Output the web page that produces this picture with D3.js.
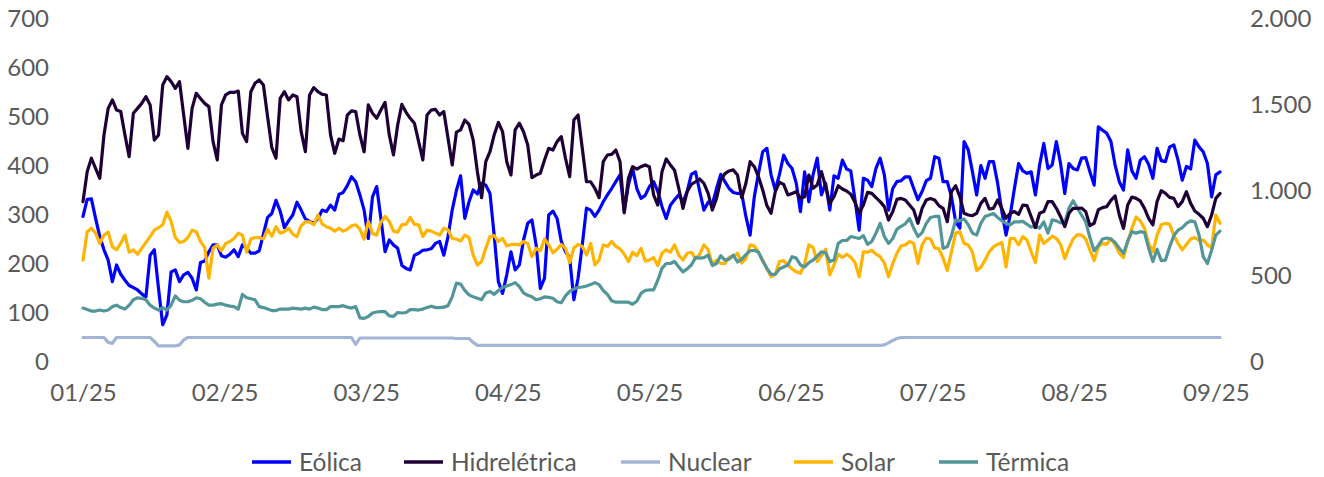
<!DOCTYPE html>
<html><head><meta charset="utf-8">
<script src="https://cdn.jsdelivr.net/npm/d3@7"></script>
<style>
body{margin:0;background:#fff;}
svg text{font-family:Lato,"Open Sans",sans-serif;fill:#595959;}
</style></head>
<body><svg id="c" width="1324" height="477"></svg>
<script>
// ---- data (daily, 01/01/2025 onward) ----
const xTickLabels = ["01/25","02/25","03/25","04/25","05/25","06/25","07/25","08/25","09/25"];
const leftTicks = [0,100,200,300,400,500,600,700];
const rightTicks = [0,500,1000,1500,2000];
const seriesNames = ["Eólica","Hidrelétrica","Nuclear","Solar","Térmica"];

const eolica = [297,332,333,293,256,229,208,164,198,179,167,156,152,147,139,133,218,229,150,76,96,184,188,164,178,183,171,147,203,206,225,239,239,217,214,220,229,215,239,232,222,222,227,261,295,
303,330,308,274,288,300,326,310,292,287,283,293,310,307,320,310,342,346,360,378,368,341,310,252,337,358,293,225,249,239,232,197,191,188,218,222,228,229,231,242,246,218,256,310,350,
380,293,327,351,343,365,361,344,259,164,140,178,225,188,198,249,283,290,239,150,171,300,308,293,246,225,212,127,171,239,314,310,297,310,327,341,354,368,382,307,361,395,354,334,340,358,
368,348,317,293,320,331,341,327,348,383,388,348,310,326,322,354,383,368,354,346,344,344,297,259,337,385,429,436,382,351,383,422,405,395,365,307,388,327,382,416,341,365,310,380,375,
412,394,390,331,269,375,371,358,395,416,382,310,354,368,370,378,378,354,331,348,370,375,419,416,368,368,337,286,273,450,433,388,341,401,375,409,409,365,307,259,300,354,405,390,385,
388,341,402,446,395,402,450,405,344,405,395,392,416,417,388,361,480,473,467,450,402,368,351,433,390,375,412,419,403,375,436,411,409,439,443,412,371,399,394,453,439,429,405,337,382,388];

const hidreletrica = [935,1110,1188,1129,1071,1324,1479,1528,1469,1460,1324,1197,1450,1479,1508,1547,1499,1294,1324,1615,1664,1635,1596,1635,1440,1246,1479,1567,1537,1508,1489,1285,1178,1499,1557,1572,1572,1580,1333,1285,1576,1625,1644,1615,1430,
1250,1188,1537,1576,1528,1557,1547,1343,1226,1557,1600,1576,1561,1557,1324,1217,1300,1290,1440,1464,1460,1324,1226,1499,1450,1421,1469,1514,1324,1207,1382,1502,1456,1421,1392,1285,1178,1440,1469,1473,1440,1460,1304,1149,1340,
1353,1411,1386,1294,1110,958,1168,1226,1324,1397,1343,1168,1090,1353,1392,1343,1265,1075,1090,1100,1178,1246,1236,1285,1314,1188,1081,1411,1440,1246,1051,1051,1013,958,1168,1207,1211,1236,1168,870,1071,1139,1125,1139,1149,1139,
974,915,1110,1184,1149,1118,1013,896,993,1036,1051,1067,1042,983,886,954,1061,1098,1114,1120,1090,958,1042,1168,1139,1081,1003,912,867,993,1048,1036,974,983,993,954,964,1090,1013,1032,1110,1022,925,964,1028,
1009,997,978,931,867,915,989,983,958,935,906,828,877,948,954,945,915,886,809,896,945,954,945,912,896,818,993,1028,964,867,857,853,867,925,954,892,896,945,896,838,867,877,861,915,912,
847,783,867,877,935,935,896,847,789,867,896,896,898,877,795,809,888,900,906,943,968,857,779,915,962,954,939,896,838,799,935,999,983,960,954,906,935,993,925,880,861,838,789,857,954,983];

const nuclear = [
50,50,50,50,50,50,40,38,50,50,
50,50,50,50,50,50,50,42,33,33,
33,33,33,35,45,50,50,50,50,50,
50,50,50,50,50,50,50,50,50,50,
50,50,50,50,50,50,50,50,50,50,
50,50,50,50,50,50,50,50,50,50,
50,50,50,50,50,36,49,49,49,49,
49,49,49,49,49,49,49,49,49,49,
49,49,49,49,49,49,49,49,49,48,
48,48,48,40,34,34,34,34,34,34,
34,34,34,34,34,34,34,34,34,34,
34,34,34,34,34,34,34,34,34,34,
34,34,34,34,34,34,34,34,34,34,
34,34,34,34,34,34,34,34,34,34,
34,34,34,34,34,34,34,34,34,34,
34,34,34,34,34,34,34,34,34,34,
34,34,34,34,34,34,34,34,34,34,
34,34,34,34,34,34,34,34,34,34,
34,34,34,34,34,34,34,34,34,34,
34,35,39,44,48,50,50,50,50,50,
50,50,50,50,50,50,50,50,50,50,
50,50,50,50,50,50,50,50,50,50,
50,50,50,50,50,50,50,50,50,50,
50,50,50,50,50,50,50,50,50,50,
50,50,50,50,50,50,50,50,50,50,
50,50,50,50,50,50,50,50,50,50,
50,50,50,50,50,50,50,50,50,50,
50,50];

const solar = [208,266,273,263,242,259,265,235,229,242,259,224,229,220,232,244,256,269,274,280,306,287,254,244,246,254,269,266,246,234,171,232,239,227,242,246,252,263,259,224,251,254,254,251,271,
257,276,263,266,273,261,256,278,286,286,280,300,282,276,273,267,273,267,271,278,280,271,251,287,262,259,285,297,287,267,265,280,281,295,281,280,256,269,267,263,259,273,270,252,251,
247,259,254,218,198,205,232,256,258,246,252,237,240,240,239,246,242,215,232,227,251,239,223,230,240,232,203,233,240,236,218,242,198,208,239,236,246,236,231,220,205,224,217,232,206,208,
213,197,222,229,224,239,218,208,222,224,211,220,239,229,199,208,201,201,214,215,222,202,211,239,237,224,208,191,174,179,205,207,198,190,184,181,201,239,234,205,217,230,178,198,220,
213,220,214,203,174,225,224,228,220,215,202,174,201,222,237,239,246,242,201,239,253,251,233,231,212,187,225,263,266,242,239,224,187,193,208,225,235,240,244,194,252,252,239,256,249,
225,203,259,242,249,257,252,240,211,233,251,260,259,251,228,207,235,242,240,252,239,222,213,246,273,296,288,273,242,225,259,280,283,281,259,242,229,240,251,254,248,249,239,233,300,283];

const termica = [110,107,104,104,106,104,106,113,116,111,108,116,127,131,130,127,116,110,106,111,106,116,135,126,123,123,126,131,129,122,116,116,118,119,116,114,113,108,138,131,129,127,113,111,108,
105,105,108,108,108,110,109,108,110,108,112,110,107,107,113,113,113,115,112,110,113,90,89,93,100,102,103,103,94,93,101,100,101,107,107,106,108,111,114,111,111,112,115,133,161,
159,146,137,133,130,127,141,144,138,146,152,155,158,162,154,141,136,133,127,129,133,132,130,123,121,135,144,149,152,153,155,158,162,158,146,138,125,122,122,122,122,118,124,140,146,147,
147,167,191,201,201,205,194,184,190,198,213,212,213,218,197,201,217,208,210,218,204,210,219,227,228,224,206,191,179,179,190,194,198,215,212,198,194,203,208,216,225,223,205,208,242,
248,248,256,254,252,258,240,246,263,283,256,242,252,271,277,282,293,273,256,264,283,295,297,297,232,235,258,290,288,292,280,263,259,283,297,300,303,295,288,283,280,286,286,287,281,
275,278,273,286,263,290,288,284,285,314,329,314,300,286,254,227,238,251,253,251,244,232,222,246,266,263,266,264,232,205,230,207,208,235,258,269,274,283,288,286,259,215,201,228,259,267];

// ---- chart ----
const N = eolica.length;
const svg = d3.select("#c");
const M = {left:83, right:1220, top:19, bottom:362};
const x = d3.scaleLinear().domain([0, N-1]).range([M.left, M.right]);
const yL = d3.scaleLinear().domain([0,700]).range([M.bottom, M.top]);
const yR = d3.scaleLinear().domain([0,2000]).range([M.bottom, M.top]);
const ptBR = d3.formatLocale({decimal:",", thousands:".", grouping:[3], currency:["R$ ",""]});
const fmtR = ptBR.format(",.0f");
const FS = 24;
const FSL = 24.5;

const colors = {"Eólica":"#0000ff","Hidrelétrica":"#1f0036","Nuclear":"#a3b5d5","Solar":"#ffb400","Térmica":"#529699"};

function drawLine(data, yScale, color, w){
  const line = d3.line().x((d,i)=>x(i)).y(d=>yScale(d));
  svg.append("path").datum(data).attr("d", line)
    .attr("fill","none").attr("stroke", color).attr("stroke-width", w)
    .attr("stroke-linejoin","round").attr("stroke-linecap","round");
}
drawLine(eolica, yL, colors["Eólica"], 3.2);
drawLine(nuclear, yL, colors["Nuclear"], 3.2);
drawLine(solar, yL, colors["Solar"], 3.2);
drawLine(termica, yL, colors["Térmica"], 3.2);
drawLine(hidreletrica, yR, colors["Hidrelétrica"], 3.2);

// axes
const gL = svg.append("g").attr("transform",`translate(${M.left},0)`)
  .call(d3.axisLeft(yL).tickValues(leftTicks).tickSize(0).tickPadding(34));
const gR = svg.append("g").attr("transform",`translate(${M.right},0)`)
  .call(d3.axisRight(yR).tickValues(rightTicks).tickSize(0).tickPadding(30).tickFormat(fmtR));
const tickIdx = d3.range(xTickLabels.length).map(k => k * 270/(xTickLabels.length-1));
const gX = svg.append("g").attr("transform",`translate(0,${M.bottom})`)
  .call(d3.axisBottom(x).tickValues(tickIdx).tickSize(0).tickPadding(22)
    .tickFormat((d,i)=>xTickLabels[i]));
[gL,gR,gX].forEach(g=>{
  g.select(".domain").remove();
  g.selectAll("text").attr("font-size",FS).style("font-family","Lato, 'Open Sans', sans-serif").attr("fill","#595959");
});

// legend
const legX = [252,404,621,794,939];
const lg = svg.append("g");
seriesNames.forEach((n,i)=>{
  lg.append("line").attr("x1",legX[i]).attr("x2",legX[i]+39).attr("y1",462).attr("y2",462)
    .attr("stroke",colors[n]).attr("stroke-width",3.5);
  lg.append("text").attr("x",legX[i]+47).attr("y",462).attr("dy","0.35em")
    .attr("font-size",FSL).text(n);
});
</script></body></html>
